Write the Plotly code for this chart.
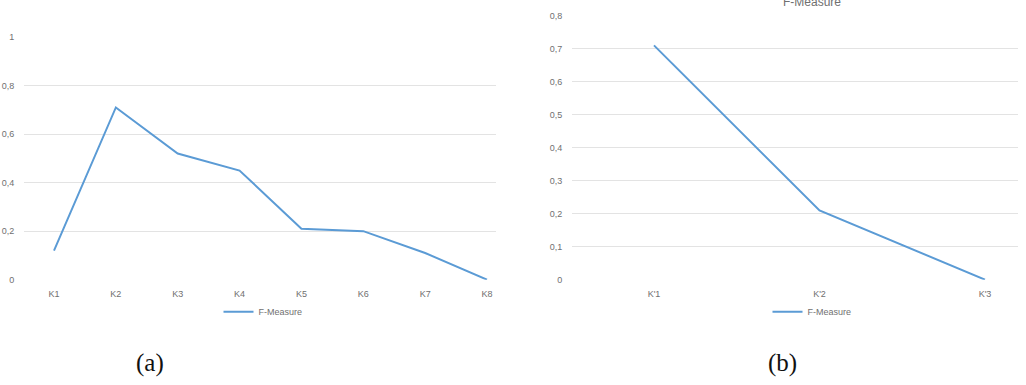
import plotly.graph_objects as go

W, H = 1026, 385

cats_a = ["K1", "K2", "K3", "K4", "K5", "K6", "K7", "K8"]
vals_a = [0.12, 0.71, 0.52, 0.45, 0.21, 0.20, 0.11, 0.0]
yticks_a = [0, 0.2, 0.4, 0.6, 0.8, 1]

cats_b = ["K'1", "K'2", "K'3"]
vals_b = [0.71, 0.21, 0.0]
yticks_b = [0, 0.1, 0.2, 0.3, 0.4, 0.5, 0.6, 0.7, 0.8]

series_name = "F-Measure"
line_color = "#5B9BD5"
grid_color = "#E3E3E3"
text_color = "#707070"
tick_font = dict(family="Liberation Sans, Arial, sans-serif", size=9, color=text_color)


def px_x(p):
    return p / W


def px_y(p):
    return 1 - p / H


fig = go.Figure()
fig.add_trace(go.Scatter(x=list(range(len(cats_a))), y=vals_a, mode="lines",
                         name=series_name, line=dict(color=line_color, width=2),
                         xaxis="x", yaxis="y", legend="legend"))
fig.add_trace(go.Scatter(x=list(range(len(cats_b))), y=vals_b, mode="lines",
                         name=series_name, line=dict(color=line_color, width=2),
                         xaxis="x2", yaxis="y2", legend="legend2"))

# left panel: K1 at x=54px, spacing ~61.9px, grid from 24 to 496
sp_a = (487 - 54) / 7
xr_a = [(24 - 54) / sp_a, (496 - 54) / sp_a]
# right panel: K'1 at 654px, spacing ~165.5px, grid from 572 to 1018
sp_b = (985 - 654) / 2
xr_b = [(572 - 654) / sp_b, (1018 - 654) / sp_b]

common_x = dict(showgrid=False, zeroline=False, showline=False, ticks="outside",
                ticklen=6, tickcolor="rgba(0,0,0,0)", tickfont=tick_font)
common_y = dict(showgrid=True, gridcolor=grid_color, gridwidth=1, zeroline=False,
                showline=False, ticks="outside", ticklen=7, tickcolor="rgba(0,0,0,0)",
                tickfont=tick_font)

fig.update_layout(
    width=W, height=H,
    margin=dict(l=0, r=0, t=0, b=0),
    paper_bgcolor="white", plot_bgcolor="white",
    separators=", ",
    showlegend=True,
    xaxis=dict(domain=[px_x(24), px_x(496)], range=xr_a,
               tickvals=list(range(len(cats_a))), ticktext=cats_a, anchor="y", **common_x),
    yaxis=dict(domain=[px_y(282), px_y(33)], range=[0, 1], tickvals=yticks_a,
               anchor="x", **common_y),
    xaxis2=dict(domain=[px_x(572), px_x(1018)], range=xr_b,
                tickvals=list(range(len(cats_b))), ticktext=cats_b, anchor="y2", **common_x),
    yaxis2=dict(domain=[px_y(282), px_y(11)], range=[0, 0.8], tickvals=yticks_b,
                anchor="x2", **common_y),
    legend=dict(orientation="h", x=px_x(263), y=px_y(315), xanchor="center", yanchor="middle",
                font=tick_font, itemwidth=30, bgcolor="rgba(0,0,0,0)"),
    legend2=dict(orientation="h", x=px_x(812), y=px_y(315), xanchor="center", yanchor="middle",
                 font=tick_font, itemwidth=30, bgcolor="rgba(0,0,0,0)"),
)

fig.add_annotation(text="F-Measure", x=px_x(812), y=px_y(-3), xref="paper", yref="paper",
                   showarrow=False, xanchor="center", yanchor="middle",
                   font=dict(family="Liberation Sans, Arial, sans-serif", size=12, color=text_color))
fig.add_annotation(text="(a)", x=px_x(150), y=px_y(368), xref="paper", yref="paper",
                   showarrow=False, xanchor="center", yanchor="middle",
                   font=dict(family="Liberation Serif, DejaVu Serif, serif", size=25, color="#111111"))
fig.add_annotation(text="(b)", x=px_x(782), y=px_y(368), xref="paper", yref="paper",
                   showarrow=False, xanchor="center", yanchor="middle",
                   font=dict(family="Liberation Serif, DejaVu Serif, serif", size=25, color="#111111"))

fig.write_html("out.html")
